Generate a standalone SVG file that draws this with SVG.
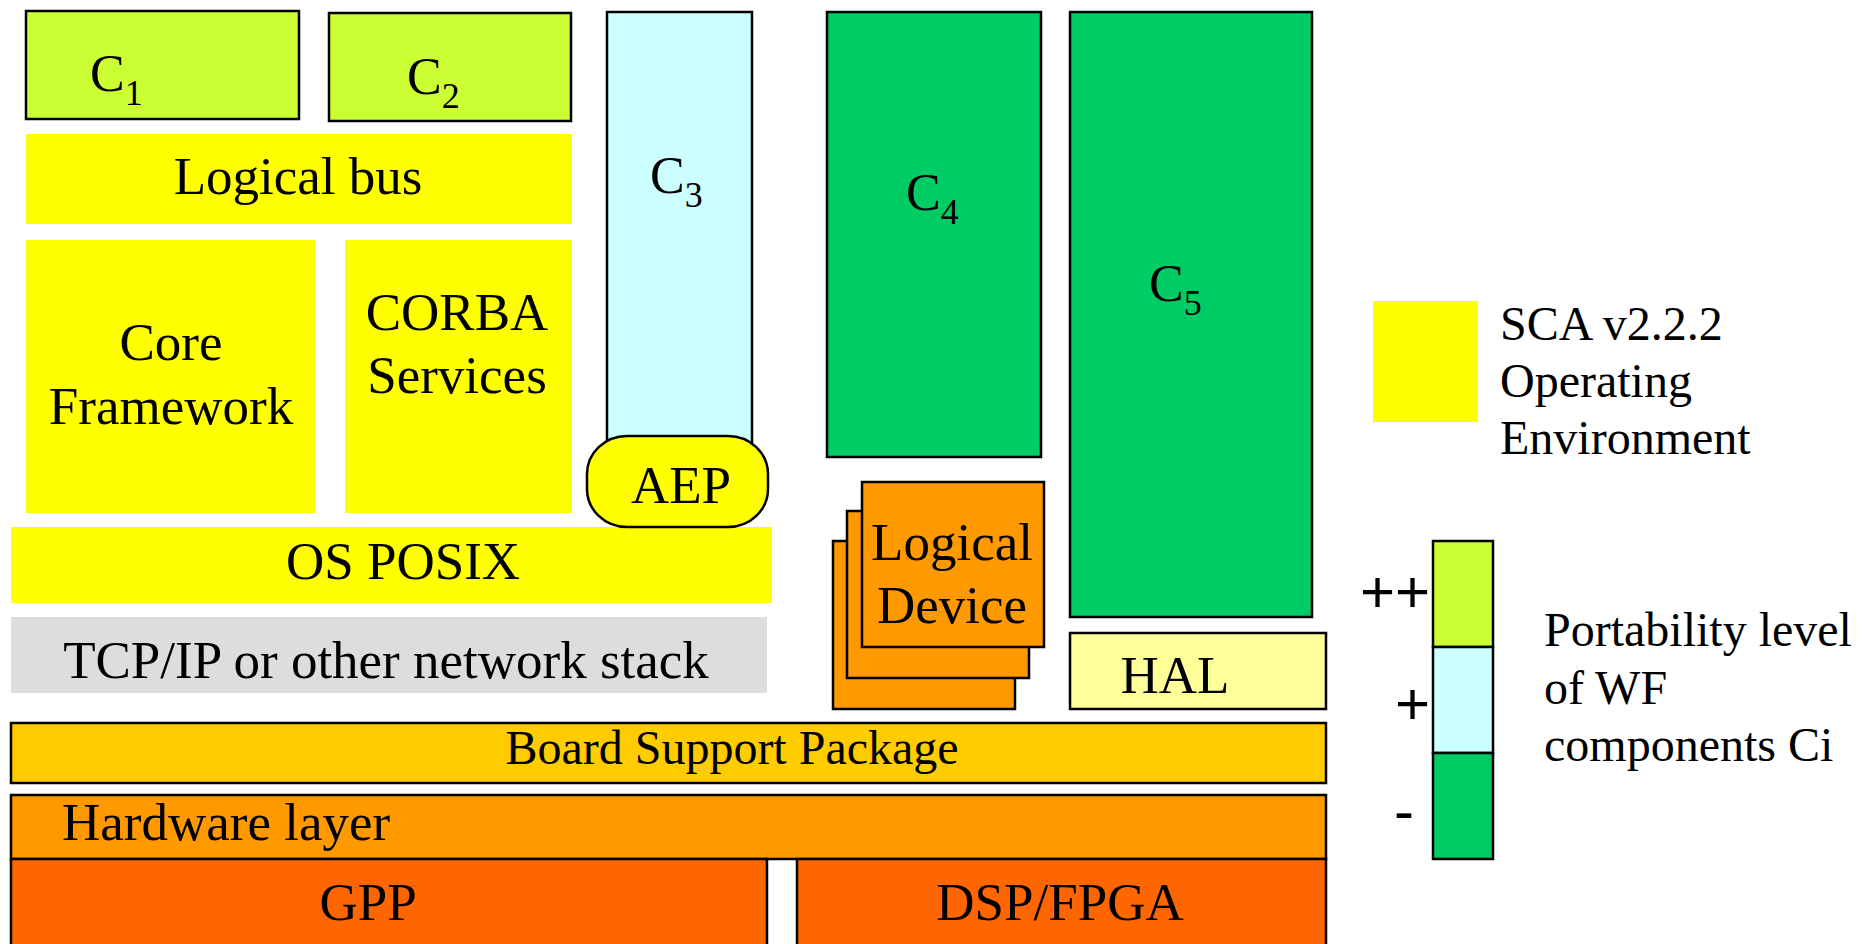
<svg xmlns="http://www.w3.org/2000/svg" width="1865" height="944" viewBox="0 0 1865 944">
<style>
text{font-family:'Liberation Serif','Times New Roman',serif;font-size:53px;fill:#000}
.c{text-anchor:middle}
.s{stroke:#000;stroke-width:2.5}
.lg{font-size:48px}
.sym{font-family:'Liberation Sans',Arial,sans-serif;font-size:60px;text-anchor:end}
.sub{font-size:36px}
.big{font-size:52px}
</style>
<rect width="1865" height="944" fill="#fff"/>
<g id="C1"><rect class="s" x="26" y="11" width="273" height="108" fill="#CCFF33"/><text class="big" x="90" y="91">C<tspan class="sub" dy="14">1</tspan></text></g>
<g id="C2"><rect class="s" x="329" y="13" width="242" height="108" fill="#CCFF33"/><text class="big" x="407" y="94">C<tspan class="sub" dy="14">2</tspan></text></g>
<g id="LogicalBus"><rect x="26" y="134" width="546" height="90" fill="#FFFF00"/><text class="c" x="298" y="194">Logical bus</text></g>
<g id="C3"><rect class="s" x="607" y="12" width="145" height="470" fill="#CCFFFF"/><text class="big" x="650" y="193">C<tspan class="sub" dy="14">3</tspan></text></g>
<g id="C4"><rect class="s" x="827" y="12" width="214" height="445" fill="#00CC66"/><text class="big" x="906" y="210">C<tspan class="sub" dy="14">4</tspan></text></g>
<g id="C5"><rect class="s" x="1070" y="12" width="242" height="605" fill="#00CC66"/><text class="big" x="1149" y="301">C<tspan class="sub" dy="14">5</tspan></text></g>
<g id="CoreFramework"><rect x="26" y="240" width="289" height="273" fill="#FFFF00"/><text class="c" x="171" y="360">Core</text><text class="c" x="171" y="424">Framework</text></g>
<g id="CORBAServices"><rect x="345" y="240" width="227" height="273" fill="#FFFF00"/><text class="c" x="457" y="330">CORBA</text><text class="c" x="457" y="393">Services</text></g>
<g id="OSPOSIX"><rect x="11" y="527" width="761" height="76" fill="#FFFF00"/><text class="c" x="403" y="579">OS POSIX</text></g>
<g id="AEP"><rect class="s" x="587" y="436" width="181" height="91" rx="40" ry="38" fill="#FFFF00"/><text class="c" x="681" y="503">AEP</text></g>
<g id="TCPIP"><rect x="11" y="617" width="756" height="76" fill="#DDDDDD"/><text class="c" x="386" y="678">TCP/IP or other network stack</text></g>
<g id="LogicalDevice">
<rect class="s" x="833" y="541" width="182" height="168" fill="#FF9900"/>
<rect class="s" x="847" y="511" width="182" height="167" fill="#FF9900"/>
<rect class="s" x="862" y="482" width="182" height="165" fill="#FF9900"/>
<text class="c" x="952" y="560">Logical</text><text class="c" x="952" y="623">Device</text></g>
<g id="HAL"><rect class="s" x="1070" y="633" width="256" height="76" fill="#FFFF99"/><text class="c" x="1175" y="693">HAL</text></g>
<g id="BSP"><rect class="s" x="11" y="723" width="1315" height="60" fill="#FFCC00"/><text class="c lg" x="732" y="764">Board Support Package</text></g>
<g id="HardwareLayer"><rect class="s" x="11" y="795" width="1315" height="64" fill="#FF9900"/><text x="62" y="840">Hardware layer</text></g>
<g id="GPP"><rect class="s" x="11" y="859" width="756" height="95" fill="#FF6600"/><text class="c" x="368" y="920">GPP</text></g>
<g id="DSPFPGA"><rect class="s" x="797" y="859" width="529" height="95" fill="#FF6600"/><text class="c" x="1060" y="920">DSP/FPGA</text></g>
<g id="LegendSCA"><rect x="1373" y="301" width="105" height="121" fill="#FFFF00"/>
<text class="lg" x="1500" y="340">SCA v2.2.2</text><text class="lg" x="1500" y="397">Operating</text><text class="lg" x="1500" y="454">Environment</text></g>
<g id="LegendPortability">
<rect class="s" x="1433" y="541" width="60" height="106" fill="#CCFF33"/>
<rect class="s" x="1433" y="647" width="60" height="106" fill="#CCFFFF"/>
<rect class="s" x="1433" y="753" width="60" height="106" fill="#00CC66"/>
<text class="sym" x="1430" y="612">++</text><text class="sym" x="1430" y="724">+</text><text class="sym" x="1414" y="831">-</text>
<text class="lg" x="1544" y="646">Portability level</text><text class="lg" x="1544" y="704">of WF</text><text class="lg" x="1544" y="761">components Ci</text></g>
<g id="connectors"/>
</svg>
